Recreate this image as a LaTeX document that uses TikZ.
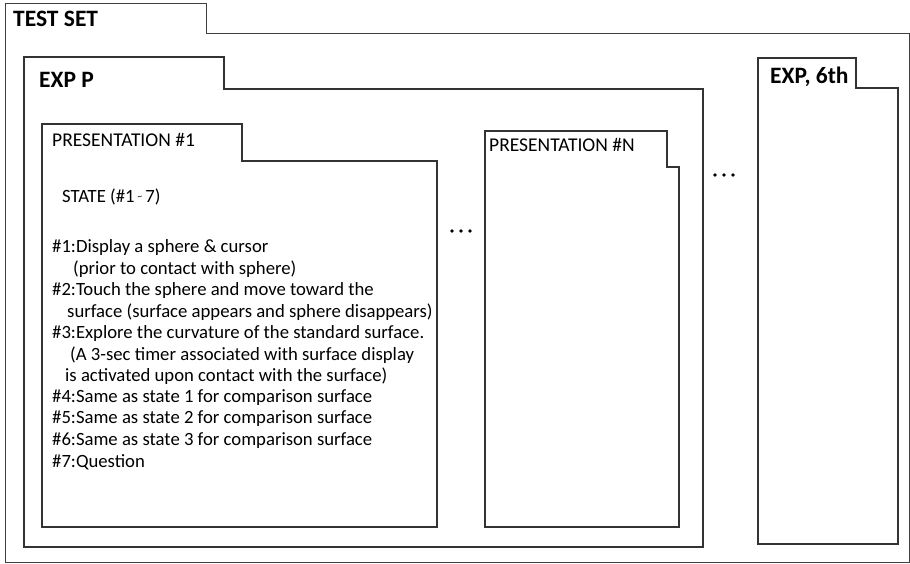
\documentclass[tikz,border=0pt]{standalone}
\usepackage{fontspec}
\setmainfont{Carlito}
\begin{document}
\begin{tikzpicture}[x=1pt,y=-1pt,
  frame/.style={draw=black!75,line width=1pt},
  inner/.style={draw=black!80,line width=1.2pt},
  title/.style={anchor=west,inner sep=0pt,font=\fontsize{23.5}{28}\selectfont\bfseries},
  ptitle/.style={anchor=west,inner sep=0pt,font=\fontsize{19.5}{23}\selectfont},
  body/.style={anchor=west,inner sep=0pt,font=\fontsize{18.7}{22}\selectfont},
  dot/.style={fill=black,draw=none}]
\useasboundingbox (0,0) rectangle (910,563);
% TEST SET
\draw[frame] (5,3) -- (206,3) -- (206,33) -- (909,33) -- (909,562) -- (5,562) -- cycle;
\node[title] (ts) at (13,19) {TEST SET};
% EXP P
\draw[inner] (24,57) -- (224,57) -- (224,89) -- (703,89) -- (703,547) -- (24,547) -- cycle;
\node[title] (expp) at (39,80) {EXP P};
% PRESENTATION #1
\draw[inner] (42,124) -- (242,124) -- (242,161) -- (437,161) -- (437,527) -- (42,527) -- cycle;
\node[ptitle] (p1) at (52,140) {PRESENTATION \#1};
% PRESENTATION #N
\draw[inner] (485,131) -- (667,131) -- (667,167) -- (679,167) -- (679,527) -- (485,527) -- cycle;
\node[ptitle] (pn) at (489,145) {PRESENTATION \#N};
% EXP, 6th
\draw[inner] (758,58) -- (856,58) -- (856,88) -- (898,88) -- (898,544) -- (758,544) -- cycle;
\node[title] (exp6) at (770,77) {EXP, 6th};
% body text
\node[body] (st) at (62,197) {STATE (\#1\,\raisebox{0.35ex}{\small\textasciitilde}\,7)};
\node[body] (l1) at (52,248) {\#1:Display a sphere \& cursor};
\node[body] (l2) at (73,269) {(prior to contact with sphere)};
\node[body] (l3) at (52,291) {\#2:Touch the sphere  and move toward the};
\node[body] (l4) at (67,312) {surface (surface appears and sphere disappears)};
\node[body] (l5) at (52,334) {\#3:Explore the curvature of the standard surface.};
\node[body] (l6) at (70,355) {(A 3-sec timer associated with surface display};
\node[body] (l7) at (65,376) {is activated upon contact with the surface)};
\node[body] (l8) at (52,398) {\#4:Same as state 1 for comparison surface};
\node[body] (l9) at (52,419) {\#5:Same as state 2 for comparison surface};
\node[body] (l10) at (52,441) {\#6:Same as state 3 for comparison surface};
\node[body] (l11) at (52,462) {\#7:Question};
% dots
\foreach \x in {452,461,470} \fill[dot] (\x,231) circle (1.9);
\foreach \x in {715,724,733} \fill[dot] (\x,175) circle (1.9);
\end{tikzpicture}
\end{document}
